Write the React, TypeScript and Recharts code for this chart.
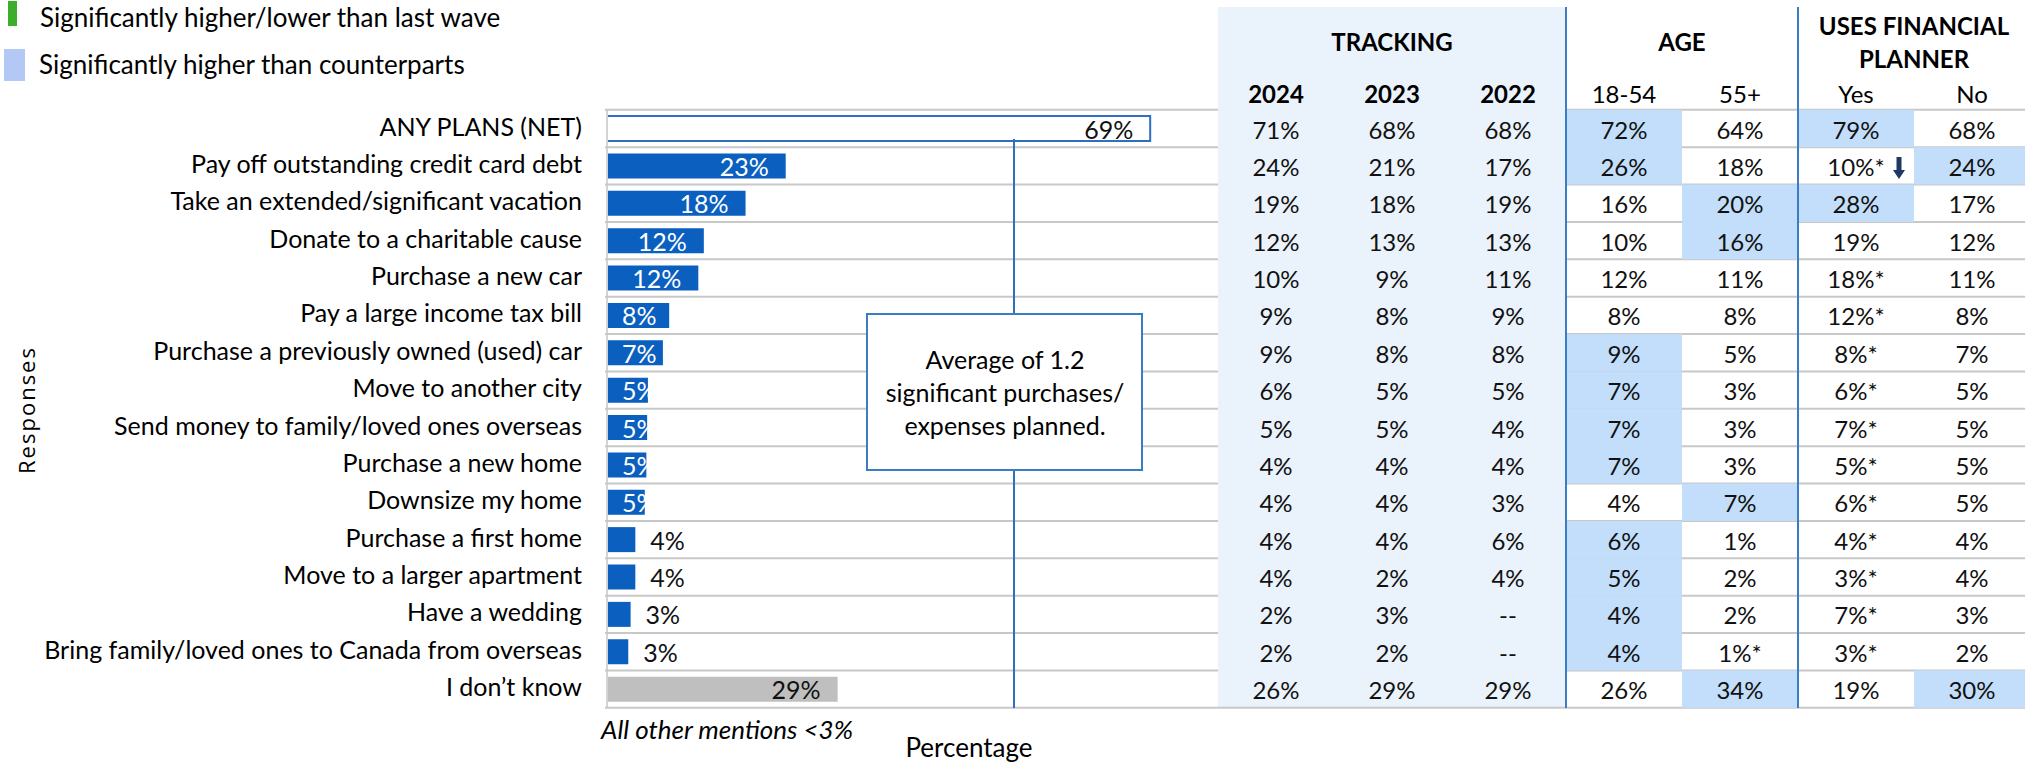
import React from 'react';
import { BarChart, Bar, XAxis, YAxis, Cell, LabelList } from 'recharts';

const categories = [
  'ANY PLANS (NET)',
  'Pay off outstanding credit card debt',
  'Take an extended/significant vacation',
  'Donate to a charitable cause',
  'Purchase a new car',
  'Pay a large income tax bill',
  'Purchase a previously owned (used) car',
  'Move to another city',
  'Send money to family/loved ones overseas',
  'Purchase a new home',
  'Downsize my home',
  'Purchase a first home',
  'Move to a larger apartment',
  'Have a wedding',
  'Bring family/loved ones to Canada from overseas',
  'I don\u2019t know',
];

// 2024 share (%)
const share2024 = [69, 22.7, 17.6, 12.3, 11.6, 7.9, 7.1, 5.2, 5.1, 5.0, 4.8, 3.6, 3.6, 3.0, 2.7, 29.3];

const tracking2024 = ['71%', '24%', '19%', '12%', '10%', '9%', '9%', '6%', '5%', '4%', '4%', '4%', '4%', '2%', '2%', '26%'];
const tracking2023 = ['68%', '21%', '18%', '13%', '9%', '8%', '8%', '5%', '5%', '4%', '4%', '4%', '2%', '3%', '2%', '29%'];
const tracking2022 = ['68%', '17%', '19%', '13%', '11%', '9%', '8%', '5%', '4%', '4%', '3%', '6%', '4%', '--', '--', '29%'];
const age18to54 = ['72%', '26%', '16%', '10%', '12%', '8%', '9%', '7%', '7%', '7%', '4%', '6%', '5%', '4%', '4%', '26%'];
const age55plus = ['64%', '18%', '20%', '16%', '11%', '8%', '5%', '3%', '3%', '3%', '7%', '1%', '2%', '2%', '1%*', '34%'];
const plannerYes = ['79%', '10%*', '28%', '19%', '18%*', '12%*', '8%*', '6%*', '7%*', '5%*', '6%*', '4%*', '3%*', '7%*', '3%*', '19%'];
const plannerNo = ['68%', '24%', '17%', '12%', '11%', '8%', '7%', '5%', '5%', '5%', '5%', '4%', '4%', '3%', '2%', '30%'];

// rows significantly higher than counterparts
const hiAge18to54 = [0, 1, 6, 7, 8, 9, 11, 12, 13, 14];
const hiAge55plus = [2, 3, 10, 15];
const hiPlannerYes = [0, 2];
const hiPlannerNo = [1, 15];
// rows significantly lower than last wave
const downPlannerYes = [1];

const columns = [
  { head: '2024', bold: true, values: tracking2024, hi: [] as number[], down: [] as number[] },
  { head: '2023', bold: true, values: tracking2023, hi: [], down: [] },
  { head: '2022', bold: true, values: tracking2022, hi: [], down: [] },
  { head: '18-54', bold: false, values: age18to54, hi: hiAge18to54, down: [] },
  { head: '55+', bold: false, values: age55plus, hi: hiAge55plus, down: [] },
  { head: 'Yes', bold: false, values: plannerYes, hi: hiPlannerYes, down: downPlannerYes },
  { head: 'No', bold: false, values: plannerNo, hi: hiPlannerNo, down: [] },
];

const groups = [
  { lines: ['TRACKING'], from: 0, to: 3 },
  { lines: ['AGE'], from: 3, to: 5 },
  { lines: ['USES FINANCIAL', 'PLANNER'], from: 5, to: 7 },
];

const data = categories.map((label, i) => ({ label, share: share2024[i] }));

const W = 2025;
const H = 766;
const PLOT_TOP = 110;
const PLOT_BOTTOM = 708;
const PLOT_LEFT = 607;
const X_MAX = 180;
const ROW_H = (PLOT_BOTTOM - PLOT_TOP) / categories.length;
const TABLE_X = 1218;
const COL_W = 116;
const BAND_RIGHT = TABLE_X + 3 * COL_W;
const FS_LABEL = 25;
const FS_CELL = 24;
const FS_LEGEND = 26;
const FONT = 'Lato, "Open Sans", sans-serif';

const BAR_BLUE = '#0b5fbf';
const LINE_BLUE = '#3b7dc4';
const GRID = '#c8c8c8';
const HI = '#c2defa';

const rowCenter = (p: any) => {
  const vb = p.viewBox ?? p;
  return vb.y + vb.height / 2;
};
const rowIndex = (p: any) =>
  typeof p.index === 'number' ? p.index : Math.round((rowCenter(p) - PLOT_TOP - ROW_H / 2) / ROW_H);

function RowLines(p: any) {
  const i = rowIndex(p);
  const top = rowCenter(p) - ROW_H / 2;
  const last = i === categories.length - 1;
  return (
    <g>
      <line x1={PLOT_LEFT - 2} x2={TABLE_X} y1={top} y2={top} stroke={GRID} strokeWidth={2} />
      <line x1={BAND_RIGHT} x2={W} y1={top} y2={top} stroke={GRID} strokeWidth={2} />
      {last && <line x1={PLOT_LEFT - 2} x2={W} y1={top + ROW_H} y2={top + ROW_H} stroke={GRID} strokeWidth={2} />}
    </g>
  );
}

function TableRow(p: any) {
  const i = rowIndex(p);
  const cy = rowCenter(p);
  const top = cy - ROW_H / 2;
  return (
    <g>
      {columns.map((c, ci) => {
        const x0 = TABLE_X + ci * COL_W;
        const cx = x0 + COL_W / 2;
        return (
          <g key={ci}>
            {c.hi.includes(i) && <rect x={x0} y={top} width={COL_W} height={ROW_H} fill={HI} />}
            <text x={cx} y={cy + 10} textAnchor="middle" fontSize={FS_CELL} fill="#111">
              {c.values[i]}
            </text>
            {c.down.includes(i) && (
              <path
                d={`M${cx + 40.5} ${cy - 9} h5 v13 h3.5 l-6 9 l-6 -9 h3.5 z`}
                fill="#1f3864"
              />
            )}
          </g>
        );
      })}
    </g>
  );
}

function BarValue(p: any) {
  const vb = p.viewBox ?? p;
  const i = rowIndex(p);
  const v = share2024[i];
  const txt = `${Math.round(v)}%`;
  const y = vb.y + vb.height / 2 + 10;
  const end = vb.x + vb.width;
  if (Math.round(v) < 5) {
    return (
      <text x={end + 15} y={y} fontSize={FS_LABEL} fill="#111">
        {txt}
      </text>
    );
  }
  const dark = i === 0 || i === categories.length - 1;
  const est = (txt.length - 1) * 0.58 * FS_LABEL + 0.83 * FS_LABEL;
  const fits = end - 17 - est >= vb.x + 15;
  return (
    <text
      x={fits ? end - 17 : vb.x + 15}
      y={y}
      textAnchor={fits ? 'end' : 'start'}
      fontSize={FS_LABEL}
      fill={dark ? '#111' : '#fff'}
    >
      {txt}
    </text>
  );
}

export default function App() {
  return (
    <div style={{ position: 'absolute', left: 0, top: 0, width: W, height: H, background: '#fff', fontFamily: FONT, overflow: 'hidden' }}>
      <svg width={W} height={H} style={{ position: 'absolute', left: 0, top: 0, zIndex: 0 }}>
        <rect x={TABLE_X} y={7} width={BAND_RIGHT - TABLE_X} height={PLOT_BOTTOM - 7} fill="#eaf2fb" />
      </svg>

      <div style={{ position: 'absolute', left: 0, top: 0, zIndex: 1 }}>
        <BarChart
          width={W}
          height={H}
          data={data}
          layout="vertical"
          barSize={25}
          margin={{ top: PLOT_TOP, right: 1, bottom: H - PLOT_BOTTOM, left: 0 }}
        >
          <XAxis type="number" domain={[0, X_MAX]} hide />
          <YAxis
            type="category"
            dataKey="label"
            width={PLOT_LEFT}
            interval={0}
            tickLine={false}
            tickSize={0}
            tickMargin={25}
            axisLine={{ stroke: '#d4d4d4', strokeWidth: 2 }}
            tick={{ fontSize: FS_LABEL, fill: '#000', dy: -2 }}
          />
          <Bar dataKey="share" isAnimationActive={false}>
            {data.map((d, i) => (
              <Cell
                key={d.label}
                fill={i === 0 ? '#fff' : i === data.length - 1 ? '#bfbfbf' : BAR_BLUE}
                stroke={i === 0 ? '#2f6fbf' : 'none'}
                strokeWidth={i === 0 ? 2 : 0}
              />
            ))}
            <LabelList dataKey="share" content={RowLines} />
            <LabelList dataKey="share" content={TableRow} />
            <LabelList dataKey="share" content={BarValue} />
          </Bar>
        </BarChart>
      </div>

      <svg width={W} height={H} style={{ position: 'absolute', left: 0, top: 0, zIndex: 2, pointerEvents: 'none' }} fontFamily={FONT}>
        {/* legend */}
        <rect x={8} y={1} width={9} height={25} fill="#3cae2c" />
        <text x={40} y={26.5} fontSize={FS_LEGEND} fill="#000">Significantly higher/lower than last wave</text>
        <rect x={4} y={49} width={21} height={32} fill="#b4c8f6" />
        <text x={39} y={74} fontSize={FS_LEGEND} fill="#000">Significantly higher than counterparts</text>

        {/* table headers */}
        {groups.map((g) => {
          const cx = TABLE_X + ((g.from + g.to) / 2) * COL_W;
          return g.lines.map((t, li) => (
            <text
              key={t}
              x={cx}
              y={g.lines.length === 1 ? 51 : 35 + li * 33}
              textAnchor="middle"
              fontSize={FS_CELL}
              fontWeight="bold"
              fill="#000"
            >
              {t}
            </text>
          ));
        })}
        {columns.map((c, ci) => (
          <text
            key={c.head}
            x={TABLE_X + (ci + 0.5) * COL_W}
            y={103}
            textAnchor="middle"
            fontSize={FS_CELL}
            fontWeight={c.bold ? 'bold' : 'normal'}
            fill="#000"
          >
            {c.head}
          </text>
        ))}
        <line x1={BAND_RIGHT} x2={BAND_RIGHT} y1={7} y2={PLOT_BOTTOM} stroke={LINE_BLUE} strokeWidth={2} />
        <line x1={TABLE_X + 5 * COL_W} x2={TABLE_X + 5 * COL_W} y1={7} y2={PLOT_BOTTOM} stroke={LINE_BLUE} strokeWidth={2} />

        {/* callout */}
        <line x1={1014} x2={1014} y1={139} y2={PLOT_BOTTOM} stroke="#2f6fbf" strokeWidth={2} />
        <rect x={867} y={314} width={275} height={156} fill="#fff" stroke={LINE_BLUE} strokeWidth={2} />
        <text x={1005} textAnchor="middle" fontSize={FS_LABEL} fill="#000">
          <tspan x={1005} y={369}>Average of 1.2</tspan>
          <tspan x={1005} y={402}>significant purchases/</tspan>
          <tspan x={1005} y={435}>expenses planned.</tspan>
        </text>

        {/* axis titles and note */}
        <text x={601} y={739} fontSize={26} fontStyle="italic" fill="#000">All other mentions &lt;3%</text>
        <text x={969} y={757} textAnchor="middle" fontSize={26} fill="#000">Percentage</text>
        <text
          x={26}
          y={410}
          transform="rotate(-90 26 410)"
          textAnchor="middle"
          dominantBaseline="central"
          fontSize={22}
          letterSpacing={2}
          fontFamily='"Open Sans", sans-serif'
          fill="#000"
        >
          Responses
        </text>
      </svg>
    </div>
  );
}
